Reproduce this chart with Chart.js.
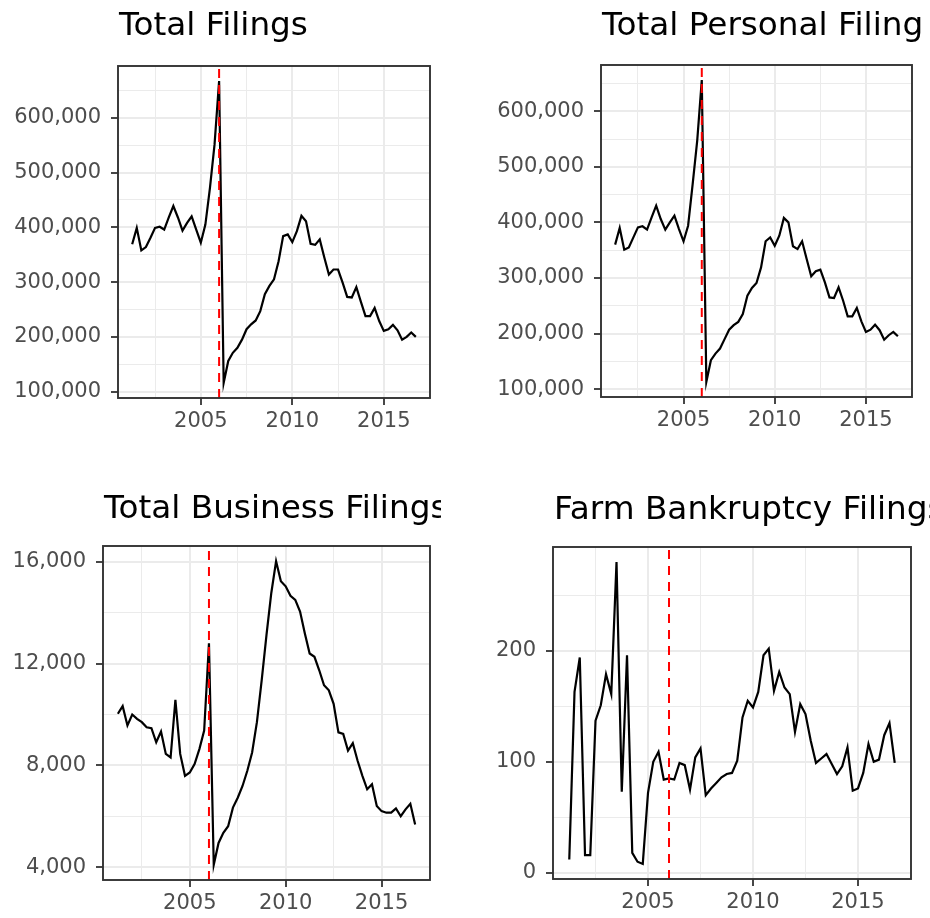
<!DOCTYPE html>
<html>
<head>
<meta charset="utf-8">
<title>Bankruptcy filings</title>
<script src="https://cdn.jsdelivr.net/npm/chart.js@4.4.1/dist/chart.umd.min.js"></script>
<style>
  html, body { margin: 0; padding: 0; background: #fff; }
  #page { position: relative; width: 930px; height: 918px; overflow: hidden; }
  #page canvas { position: absolute; }
</style>
</head>
<body>
<div id="page">
  <canvas id="totalFilings"></canvas>
  <canvas id="personalFilings"></canvas>
  <canvas id="businessFilings"></canvas>
  <canvas id="farmFilings"></canvas>
</div>
<script>
// Quarterly observations, 2001 Q1 .. 2016 Q3
const quarters = [
    '2001Q1', '2001Q2', '2001Q3', '2001Q4', '2002Q1', '2002Q2', '2002Q3', '2002Q4',
    '2003Q1', '2003Q2', '2003Q3', '2003Q4', '2004Q1', '2004Q2', '2004Q3', '2004Q4',
    '2005Q1', '2005Q2', '2005Q3', '2005Q4', '2006Q1', '2006Q2', '2006Q3', '2006Q4',
    '2007Q1', '2007Q2', '2007Q3', '2007Q4', '2008Q1', '2008Q2', '2008Q3', '2008Q4',
    '2009Q1', '2009Q2', '2009Q3', '2009Q4', '2010Q1', '2010Q2', '2010Q3', '2010Q4',
    '2011Q1', '2011Q2', '2011Q3', '2011Q4', '2012Q1', '2012Q2', '2012Q3', '2012Q4',
    '2013Q1', '2013Q2', '2013Q3', '2013Q4', '2014Q1', '2014Q2', '2014Q3', '2014Q4',
    '2015Q1', '2015Q2', '2015Q3', '2015Q4', '2016Q1', '2016Q2', '2016Q3'
];

const totalFilings = [
    369000, 399000, 358000, 364000, 381000, 399000, 401000, 396000, 418000, 439000,
    418000, 394000, 408000, 420000, 396000, 372000, 405000, 472000, 551000, 667000,
    116000, 156000, 171000, 180000, 195000, 214000, 223000, 230000, 247000, 278000,
    293000, 305000, 338000, 384000, 387000, 373000, 393000, 421000, 411000, 370000,
    368000, 378000, 345000, 314000, 323000, 323000, 299000, 273000, 272000, 291000,
    264000, 238000, 238000, 253000, 229000, 211000, 214000, 222000, 212000, 195000,
    200000, 208000, 200000
];

const personalFilings = [
    360000, 390000, 351000, 355000, 373000, 391000, 393000, 387000, 409000, 430000,
    406000, 387000, 400000, 412000, 388000, 366000, 394000, 469000, 547000, 656000,
    113000, 152000, 164000, 173000, 190000, 207000, 215000, 221000, 235000, 268000,
    282000, 291000, 319000, 366000, 373000, 358000, 376000, 408000, 400000, 357000,
    352000, 366000, 334000, 303000, 312000, 315000, 292000, 265000, 264000, 283000,
    259000, 231000, 231000, 246000, 222000, 203000, 207000, 216000, 206000, 189000,
    197000, 203000, 195000
];

const businessFilings = [
    10030, 10330, 9570, 10000, 9830, 9700, 9500, 9460, 8910, 9330,
    8450, 8310, 10580, 8450, 7590, 7720, 8050, 8640, 9370, 12800,
    4090, 4950, 5350, 5610, 6340, 6730, 7190, 7790, 8510, 9700,
    11350, 13130, 14780, 16030, 15240, 15040, 14670, 14510, 14050, 13190,
    12400, 12270, 11740, 11150, 10950, 10420, 9300, 9240, 8580, 8870,
    8180, 7590, 7060, 7260, 6400, 6200, 6140, 6140, 6310, 6000,
    6270, 6490, 5680
];

const farmFilings = [
    12, 163, 194, 16, 16, 137, 151, 179, 161, 280,
    73, 196, 18, 10, 8, 72, 100, 109, 84, 85,
    84, 99, 97, 75, 104, 112, 70, 76, 81, 86,
    89, 90, 101, 140, 155, 149, 163, 196, 202, 164,
    181, 167, 161, 127, 152, 143, 119, 99, 103, 107,
    98, 89, 96, 113, 74, 76, 90, 116, 100, 102,
    124, 135, 99
];

// reform marker (red dashed line)
const reformYear = 2006;

const xMajorTicks = [2005, 2010, 2015];
const xMinorTicks = [2002.5, 2007.5, 2012.5, 2017.5];

const filingsMajorTicks = [100000, 200000, 300000, 400000, 500000, 600000];
const filingsMinorTicks = [150000, 250000, 350000, 450000, 550000, 650000];
const businessMajorTicks = [4000, 8000, 12000, 16000];
const businessMinorTicks = [6000, 10000, 14000];
const farmMajorTicks = [0, 100, 200];
const farmMinorTicks = [50, 150, 250];

const FONT = "'DejaVu Sans', sans-serif";

function quarterToYear(q) {
    // quarter-end as decimal year
    return parseInt(q.slice(0, 4)) + parseInt(q.slice(5)) / 4;
}

function expandRange(lo, hi) {
    const pad = (hi - lo) * 0.05;
    return [lo - pad, hi + pad];
}

// title drawn flush with the panel, clipped by the canvas like ggplot does
const panelTitle = {
    id: 'panelTitle',
    afterDraw(chart, args, opts) {
        const {ctx, chartArea} = chart;
        ctx.save();
        ctx.font = '32.7px ' + FONT;
        ctx.fillStyle = '#000';
        ctx.textBaseline = 'alphabetic';
        ctx.fillText(opts.text, chartArea.left + 1, chartArea.top - opts.gap);
        ctx.restore();
    }
};

const panelBorder = {
    id: 'panelBorder',
    afterDraw(chart) {
        const {ctx, chartArea} = chart;
        ctx.save();
        ctx.strokeStyle = '#333333';
        ctx.lineWidth = 1.9;
        ctx.strokeRect(chartArea.left, chartArea.top,
            chartArea.right - chartArea.left, chartArea.bottom - chartArea.top);
        ctx.restore();
    }
};

function axisOptions(majors, minors, fmt, pad) {
    const all = majors.concat(minors).sort((a, b) => a - b);
    const isMajor = v => majors.includes(v);
    return {
        afterBuildTicks: axis => {
            axis.ticks = all.filter(v => v >= axis.min && v <= axis.max).map(v => ({value: v}));
        },
        ticks: {
            autoSkip: false,
            maxRotation: 0,
            padding: pad,
            color: '#4d4d4d',
            font: {family: FONT, size: 21},
            callback: v => isMajor(v) ? fmt(v) : ''
        },
        grid: {
            color: '#ebebeb',
            lineWidth: c => (c.tick && isMajor(c.tick.value)) ? 2 : 1,
            tickLength: 7,
            tickWidth: 1.8,
            tickColor: c => (c.tick && isMajor(c.tick.value)) ? '#333333' : 'rgba(0,0,0,0)'
        },
        border: {display: false}
    };
}

function makePanel(cfg) {
    const canvas = document.getElementById(cfg.id);
    canvas.width = cfg.box.width;
    canvas.height = cfg.box.height;
    canvas.style.left = cfg.box.left + 'px';
    canvas.style.top = cfg.box.top + 'px';

    const points = quarters.map((q, i) => ({x: quarterToYear(q), y: cfg.values[i]}));
    const xs = points.map(p => p.x);
    const [xMin, xMax] = expandRange(Math.min(...xs), Math.max(...xs));
    const [yMin, yMax] = expandRange(Math.min(...cfg.values), Math.max(...cfg.values));

    const yAxisWidth = cfg.area.left - cfg.box.left;
    const xAxisHeight = cfg.box.top + cfg.box.height - cfg.area.bottom;

    const xAxis = axisOptions(xMajorTicks, xMinorTicks, v => String(v), 4);
    xAxis.type = 'linear';
    xAxis.min = xMin;
    xAxis.max = xMax;
    xAxis.afterFit = axis => { axis.height = xAxisHeight; };

    const yAxis = axisOptions(cfg.majors, cfg.minors, v => v.toLocaleString('en-US'), 10);
    yAxis.min = yMin;
    yAxis.max = yMax;
    yAxis.afterFit = axis => { axis.width = yAxisWidth; };

    return new Chart(canvas, {
        type: 'line',
        data: {
            datasets: [
                {
                    data: [{x: reformYear, y: yMin}, {x: reformYear, y: yMax}],
                    borderColor: '#ff0000',
                    borderWidth: 2,
                    borderDash: [9, 7],
                    pointRadius: 0,
                    order: 0
                },
                {
                    data: points,
                    borderColor: '#000000',
                    borderWidth: 2.2,
                    pointRadius: 0,
                    tension: 0,
                    order: 1
                }
            ]
        },
        options: {
            responsive: false,
            animation: false,
            events: [],
            layout: {
                padding: {
                    left: 0,
                    top: cfg.area.top - cfg.box.top,
                    right: cfg.box.left + cfg.box.width - cfg.area.right,
                    bottom: 0
                }
            },
            scales: {x: xAxis, y: yAxis},
            plugins: {
                legend: {display: false},
                tooltip: {enabled: false},
                panelTitle: {text: cfg.title, gap: cfg.titleGap}
            }
        },
        plugins: [panelTitle, panelBorder]
    });
}

document.addEventListener('DOMContentLoaded', () => {
    makePanel({
        id: 'totalFilings', title: 'Total Filings', values: totalFilings,
        majors: filingsMajorTicks, minors: filingsMinorTicks, titleGap: 31,
        box: {left: 0, top: 0, width: 441, height: 459},
        area: {left: 118, right: 430, top: 66, bottom: 398}
    });
    makePanel({
        id: 'personalFilings', title: 'Total Personal Filings', values: personalFilings,
        majors: filingsMajorTicks, minors: filingsMinorTicks, titleGap: 30,
        box: {left: 465, top: 0, width: 460, height: 459},
        area: {left: 601, right: 912, top: 65, bottom: 397}
    });
    makePanel({
        id: 'businessFilings', title: 'Total Business Filings', values: businessFilings,
        majors: businessMajorTicks, minors: businessMinorTicks, titleGap: 28,
        box: {left: 0, top: 459, width: 441, height: 459},
        area: {left: 103, right: 430, top: 546, bottom: 880}
    });
    makePanel({
        id: 'farmFilings', title: 'Farm Bankruptcy Filings', values: farmFilings,
        majors: farmMajorTicks, minors: farmMinorTicks, titleGap: 28,
        box: {left: 465, top: 459, width: 465, height: 459},
        area: {left: 553, right: 911, top: 547, bottom: 879}
    });
});
</script>
</body>
</html>
